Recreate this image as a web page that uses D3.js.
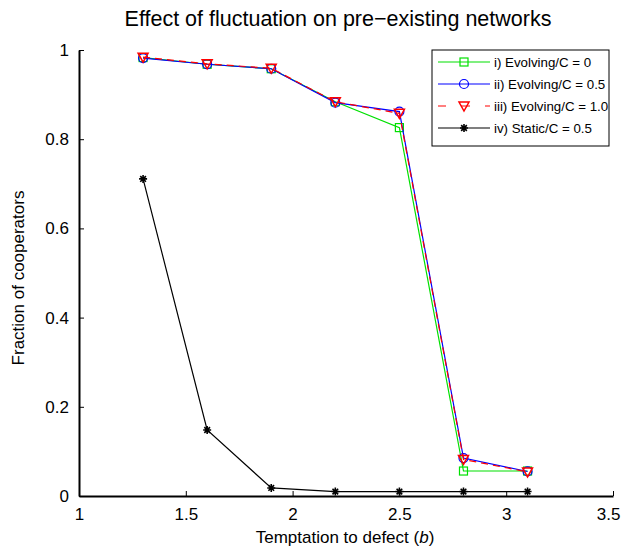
<!DOCTYPE html>
<html><head><meta charset="utf-8">
<script src="https://cdn.jsdelivr.net/npm/d3@7"></script>
<style>body{margin:0;background:#fff}svg{display:block}text{font-family:"Liberation Sans",Arial,sans-serif}</style>
</head><body>
<svg id="c" width="621" height="547"></svg>
<script>
const bValues = [1.3, 1.6, 1.9, 2.2, 2.5, 2.8, 3.1];
const seriesNames = ["i) Evolving/C = 0", "ii) Evolving/C = 0.5", "iii) Evolving/C = 1.0", "iv) Static/C = 0.5"];
const evolvingC0 = [0.983, 0.968, 0.958, 0.884, 0.826, 0.056, 0.056];
const evolvingC05 = [0.982, 0.968, 0.958, 0.882, 0.862, 0.085, 0.055];
const evolvingC10 = [0.984, 0.969, 0.959, 0.884, 0.858, 0.082, 0.054];
const staticC05 = [0.711, 0.148, 0.018, 0.010, 0.010, 0.010, 0.010];
const xTicks = [1, 1.5, 2, 2.5, 3, 3.5];
const yTicks = [0, 0.2, 0.4, 0.6, 0.8, 1];

const svg = d3.select("#c");
const x = d3.scaleLinear().domain([1, 3.5]).range([79, 613]);
const y = d3.scaleLinear().domain([0, 1]).range([496, 50]);

svg.append("text").attr("x", 338).attr("y", 26).attr("text-anchor", "middle")
  .attr("font-size", 21.5).text("Effect of fluctuation on pre\u2212existing networks");

// axes
const xa = svg.append("g").attr("transform", "translate(0,496)")
  .call(d3.axisBottom(x).tickValues(xTicks).tickSizeInner(-5).tickSizeOuter(0).tickPadding(11).tickFormat(d3.format("")));
const ya = svg.append("g").attr("transform", "translate(79,0)")
  .call(d3.axisLeft(y).tickValues(yTicks).tickSizeInner(-5).tickSizeOuter(0).tickPadding(10).tickFormat(d3.format("")));
[xa, ya].forEach(a => {
  a.select(".domain").attr("stroke", "#000").attr("stroke-width", 2);
  a.selectAll(".tick line").attr("stroke", "#000").attr("stroke-width", 1);
  a.selectAll(".tick text").attr("font-size", 17).attr("fill", "#000")
   .style("font-family", '"Liberation Sans",Arial,sans-serif');
});
xa.selectAll(".tick text").attr("dy", "0.75em");
xa.selectAll(".tick text").filter(d => d === 3.5).attr("text-anchor", "end").attr("x", 7);

svg.append("text").attr("x", 345).attr("y", 543).attr("text-anchor", "middle").attr("font-size", 17)
  .html('Temptation to defect (<tspan font-style="italic">b</tspan>)');
svg.append("text").attr("transform", "translate(24,278) rotate(-90)").attr("text-anchor", "middle")
  .attr("font-size", 17).text("Fraction of cooperators");

const series = [
  {name: seriesNames[0], vals: evolvingC0, color: "#00e000", dash: null, marker: "square"},
  {name: seriesNames[1], vals: evolvingC05, color: "#0000ff", dash: null, marker: "circle"},
  {name: seriesNames[2], vals: evolvingC10, color: "#ff0000", dash: "7,5", marker: "triangle"},
  {name: seriesNames[3], vals: staticC05, color: "#000000", dash: null, marker: "star"}
];

function drawMarker(g, type, cx, cy, color) {
  if (type === "square") {
    g.append("rect").attr("x", cx - 4).attr("y", cy - 4).attr("width", 8).attr("height", 8)
      .attr("fill", "none").attr("stroke", color).attr("stroke-width", 1.2);
  } else if (type === "circle") {
    g.append("circle").attr("cx", cx).attr("cy", cy).attr("r", 4.5)
      .attr("fill", "none").attr("stroke", color).attr("stroke-width", 1.2);
  } else if (type === "triangle") {
    g.append("path").attr("d", `M${cx-5},${cy-4}L${cx+5},${cy-4}L${cx},${cy+5}Z`)
      .attr("fill", "none").attr("stroke", color).attr("stroke-width", 1.5);
  } else {
    const r = 4;
    let d = "";
    for (let k = 0; k < 4; k++) {
      const a = k * Math.PI / 4;
      d += `M${cx - r*Math.cos(a)},${cy - r*Math.sin(a)}L${cx + r*Math.cos(a)},${cy + r*Math.sin(a)}`;
    }
    g.append("path").attr("d", d).attr("stroke", color).attr("stroke-width", 1.6);
  }
}

const line = d3.line().x((d, i) => x(bValues[i])).y(d => y(d));
series.forEach(s => {
  const g = svg.append("g");
  g.append("path").attr("d", line(s.vals)).attr("fill", "none").attr("stroke", s.color)
    .attr("stroke-width", 1.2).attr("stroke-dasharray", s.dash);
  s.vals.forEach((v, i) => drawMarker(g, s.marker, x(bValues[i]), y(v), s.color));
});

// legend
const lg = svg.append("g");
lg.append("rect").attr("x", 432).attr("y", 50).attr("width", 177).attr("height", 96)
  .attr("fill", "#fff").attr("stroke", "#000").attr("stroke-width", 1);
series.forEach((s, i) => {
  const ly = 62 + i * 22;
  lg.append("line").attr("x1", 438).attr("x2", 490).attr("y1", ly).attr("y2", ly)
    .attr("stroke", s.color).attr("stroke-width", 1.2).attr("stroke-dasharray", s.dash ? "9,15" : null)
    .attr("stroke-dashoffset", s.dash ? 1 : null);
  drawMarker(lg, s.marker, 464, ly, s.color);
  lg.append("text").attr("x", 494).attr("y", ly + 5).attr("font-size", 13.3).text(s.name);
});
</script>
</body></html>
